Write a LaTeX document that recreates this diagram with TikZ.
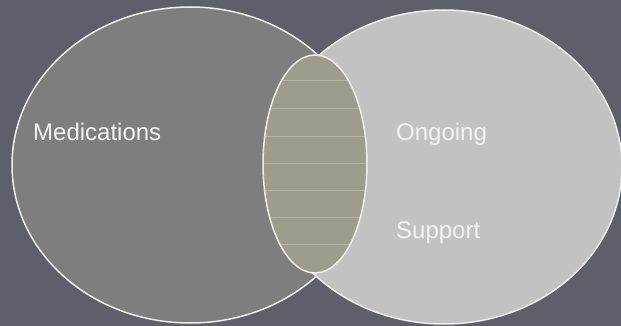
\documentclass[tikz,border=0pt]{standalone}
\usepackage{fontspec}
\setmainfont{Liberation Sans}
\usetikzlibrary{positioning}
\definecolor{Slate}{HTML}{5D5F6B}
\definecolor{Dim}{HTML}{7E7E7E}
\definecolor{Silver}{HTML}{C2C2C2}
\definecolor{Olive}{HTML}{9D9C8D}
\definecolor{Rim}{HTML}{EEEEE6}
\definecolor{Rule}{HTML}{B3B2A5}
\tikzset{
  rim/.style={draw=Rim,line width=1.5pt},
  ruleline/.style={draw=Rule,line width=0.6pt},
  lbl/.style={text=white!95!black,font=\fontsize{24}{28}\selectfont,inner sep=0pt,anchor=base west}
}

\begin{document}
\begin{tikzpicture}[x=1pt,y=-1pt]
  \fill[Slate] (0,0) rectangle (621,326);
  \useasboundingbox (0,0) rectangle (621,326);
  % the two big sets
  \draw[rim,fill=Dim] (190,165) ellipse [x radius=178,y radius=158];
  \draw[rim,fill=Silver] (444,167) ellipse [x radius=178,y radius=157];
  % overlap, ruled
  \begin{scope}
    \clip (315,164) ellipse [x radius=52,y radius=109];
    \fill[Olive] (260,50) rectangle (370,280);
    \foreach \y in {80,108,136,163,190,217,244}
      \draw[ruleline] (260,\y) -- (370,\y);
  \end{scope}
  \draw[rim] (315,164) ellipse [x radius=52,y radius=109];
  \node[lbl] (med) at (33,141) {Medications};
  \node[lbl] (ongoing) at (396,141) {Ongoing};
  \node[lbl] (support) at (396,238) {Support};
\end{tikzpicture}
\end{document}
